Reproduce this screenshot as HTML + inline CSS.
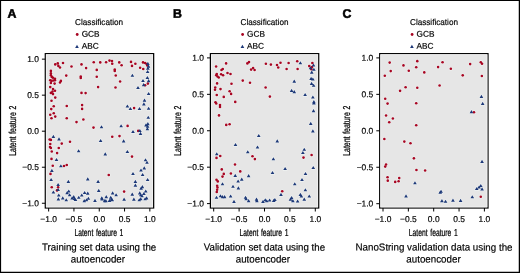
<!DOCTYPE html>
<html><head><meta charset="utf-8"><title>Figure</title>
<style>html,body{margin:0;padding:0;background:#fff}body{width:520px;height:273px;overflow:hidden}g.h{fill:#f0f3f2;stroke:#f0f3f2;stroke-width:1.1px;stroke-linejoin:round}text{stroke:#000;stroke-width:.17px}text.N{stroke-width:.24px;word-spacing:1.1px}text.L{stroke-width:.55px}</style></head>
<body>
<svg width="520" height="273" viewBox="0 0 520 273" style="display:block;will-change:transform;opacity:0.999" font-family="Liberation Sans, sans-serif" fill="#000">
<rect x="0" y="0" width="520" height="273" fill="#fff"/>
<path d="M0 0H520V273H0Z M1.1 1.1V271.75H518.75V1.1Z" fill="#000" fill-rule="evenodd"/>
<text transform="translate(7.50 17.80) rotate(0.03)" font-size="12.3" font-weight="bold" class="L">A</text>
<text transform="translate(75.10 24.90) rotate(0.03)" font-size="8.6" textLength="48" lengthAdjust="spacingAndGlyphs">Classification</text>
<circle cx="77.20" cy="34.5" r="1.4" fill="#a80522"/>
<text transform="translate(81.70 36.75) rotate(0.03)" font-size="8.4" textLength="17.9" lengthAdjust="spacingAndGlyphs">GCB</text>
<path d="M77.00 44.70L78.85 47.90H75.15Z" fill="#1d3878"/>
<text transform="translate(81.70 48.65) rotate(0.03)" font-size="8.4" textLength="17.0" lengthAdjust="spacingAndGlyphs">ABC</text>
<rect x="45.3" y="53.65" width="108.35" height="154.35" fill="#e6e6e6" stroke="#000" stroke-width="1.25"/>
<rect x="46.32" y="54.67" width="106.30" height="152.30" fill="none" stroke="#f3f3f3" stroke-width="0.8"/>
<path d="M48.65 208.0V211.50" stroke="#000" stroke-width="1.0" fill="none"/>
<text transform="translate(48.65 222.00) rotate(0.03)" font-size="8.45" text-anchor="middle">−1.0</text>
<path d="M45.3 203.25H41.90" stroke="#000" stroke-width="1.0" fill="none"/>
<text transform="translate(38.90 206.15) rotate(0.03)" font-size="8.45" text-anchor="end">−1.0</text>
<path d="M73.95 208.0V211.50" stroke="#000" stroke-width="1.0" fill="none"/>
<text transform="translate(73.95 222.00) rotate(0.03)" font-size="8.45" text-anchor="middle">−0.5</text>
<path d="M45.3 167.22H41.90" stroke="#000" stroke-width="1.0" fill="none"/>
<text transform="translate(38.90 170.12) rotate(0.03)" font-size="8.45" text-anchor="end">−0.5</text>
<path d="M99.25 208.0V211.50" stroke="#000" stroke-width="1.0" fill="none"/>
<text transform="translate(99.25 222.00) rotate(0.03)" font-size="8.45" text-anchor="middle">0.0</text>
<path d="M45.3 131.20H41.90" stroke="#000" stroke-width="1.0" fill="none"/>
<text transform="translate(38.90 134.10) rotate(0.03)" font-size="8.45" text-anchor="end">0.0</text>
<path d="M124.55 208.0V211.50" stroke="#000" stroke-width="1.0" fill="none"/>
<text transform="translate(124.55 222.00) rotate(0.03)" font-size="8.45" text-anchor="middle">0.5</text>
<path d="M45.3 95.17H41.90" stroke="#000" stroke-width="1.0" fill="none"/>
<text transform="translate(38.90 98.07) rotate(0.03)" font-size="8.45" text-anchor="end">0.5</text>
<path d="M149.85 208.0V211.50" stroke="#000" stroke-width="1.0" fill="none"/>
<text transform="translate(149.85 222.00) rotate(0.03)" font-size="8.45" text-anchor="middle">1.0</text>
<path d="M45.3 59.15H41.90" stroke="#000" stroke-width="1.0" fill="none"/>
<text transform="translate(38.90 62.05) rotate(0.03)" font-size="8.45" text-anchor="end">1.0</text>
<text transform="translate(98.88 236.00) rotate(0.03)" font-size="10.1" text-anchor="middle" textLength="48.9" lengthAdjust="spacingAndGlyphs" class="N">Latent feature 1</text>
<text transform="translate(15.80 130.75) rotate(-90.03)" font-size="10.1" text-anchor="middle" textLength="50.2" lengthAdjust="spacingAndGlyphs" class="N">Latent feature 2</text>
<g class="h">
<circle cx="55.25" cy="64.38" r="1.3"/>
<circle cx="57.75" cy="63.38" r="1.3"/>
<circle cx="63.0" cy="63.0" r="1.3"/>
<circle cx="58.38" cy="65.88" r="1.3"/>
<circle cx="60.0" cy="67.5" r="1.3"/>
<circle cx="71.5" cy="66.5" r="1.3"/>
<circle cx="81.5" cy="64.38" r="1.3"/>
<circle cx="86.12" cy="68.12" r="1.3"/>
<circle cx="93.75" cy="62.25" r="1.3"/>
<circle cx="100.25" cy="62.38" r="1.3"/>
<circle cx="106.12" cy="62.25" r="1.3"/>
<circle cx="96.75" cy="69.88" r="1.3"/>
<circle cx="96.75" cy="76.75" r="1.3"/>
<circle cx="80.75" cy="76.5" r="1.3"/>
<circle cx="80.75" cy="78.0" r="1.3"/>
<circle cx="66.25" cy="75.62" r="1.3"/>
<circle cx="50.88" cy="70.88" r="1.3"/>
<circle cx="50.88" cy="73.38" r="1.3"/>
<circle cx="50.88" cy="75.25" r="1.3"/>
<circle cx="51.75" cy="76.88" r="1.3"/>
<circle cx="53.0" cy="77.75" r="1.3"/>
<circle cx="55.0" cy="78.75" r="1.3"/>
<circle cx="50.25" cy="80.25" r="1.3"/>
<circle cx="51.5" cy="80.88" r="1.3"/>
<circle cx="53.38" cy="80.5" r="1.3"/>
<circle cx="55.0" cy="80.25" r="1.3"/>
<circle cx="60.88" cy="80.88" r="1.3"/>
<circle cx="60.0" cy="82.5" r="1.3"/>
<circle cx="50.88" cy="83.0" r="1.3"/>
<circle cx="54.62" cy="83.62" r="1.3"/>
<circle cx="50.25" cy="87.12" r="1.3"/>
<circle cx="98.12" cy="87.12" r="1.3"/>
<circle cx="53.0" cy="89.12" r="1.3"/>
<circle cx="55.0" cy="90.75" r="1.3"/>
<circle cx="52.5" cy="91.62" r="1.3"/>
<circle cx="50.88" cy="92.88" r="1.3"/>
<circle cx="53.0" cy="94.12" r="1.3"/>
<circle cx="55.25" cy="97.62" r="1.3"/>
<circle cx="51.5" cy="100.75" r="1.3"/>
<circle cx="53.75" cy="106.25" r="1.3"/>
<circle cx="51.25" cy="109.12" r="1.3"/>
<circle cx="53.75" cy="113.25" r="1.3"/>
<circle cx="50.25" cy="114.75" r="1.3"/>
<circle cx="55.25" cy="116.62" r="1.3"/>
<circle cx="51.5" cy="118.25" r="1.3"/>
<circle cx="66.75" cy="106.0" r="1.3"/>
<circle cx="66.75" cy="118.25" r="1.3"/>
<circle cx="81.5" cy="92.88" r="1.3"/>
<circle cx="85.62" cy="93.12" r="1.3"/>
<circle cx="82.12" cy="105.12" r="1.3"/>
<circle cx="82.12" cy="108.88" r="1.3"/>
<circle cx="83.38" cy="119.5" r="1.3"/>
<circle cx="76.5" cy="122.12" r="1.3"/>
<circle cx="93.5" cy="127.62" r="1.3"/>
<circle cx="49.62" cy="139.5" r="1.3"/>
<circle cx="50.88" cy="139.88" r="1.3"/>
<circle cx="50.25" cy="144.0" r="1.3"/>
<circle cx="50.0" cy="147.0" r="1.3"/>
<circle cx="50.88" cy="148.0" r="1.3"/>
<circle cx="58.75" cy="148.0" r="1.3"/>
<circle cx="61.75" cy="143.62" r="1.3"/>
<circle cx="70.0" cy="141.75" r="1.3"/>
<circle cx="51.75" cy="151.5" r="1.3"/>
<path d="M101.50 125.15L103.35 128.35H99.65Z"/>
<path d="M53.38 134.78L55.23 137.98H51.53Z"/>
<path d="M59.00 137.28L60.85 140.48H57.15Z"/>
<path d="M100.62 138.90L102.47 142.10H98.77Z"/>
<path d="M78.62 149.15L80.47 152.35H76.77Z"/>
<circle cx="57.12" cy="153.12" r="1.3"/>
<circle cx="51.5" cy="158.88" r="1.3"/>
<circle cx="52.75" cy="165.75" r="1.3"/>
<circle cx="64.0" cy="166.0" r="1.3"/>
<circle cx="66.75" cy="165.0" r="1.3"/>
<circle cx="50.5" cy="173.88" r="1.3"/>
<circle cx="108.75" cy="175.0" r="1.3"/>
<path d="M105.25 152.28L107.10 155.48H103.40Z"/>
<path d="M56.50 157.90L58.35 161.10H54.65Z"/>
<path d="M60.88 164.15L62.73 167.35H59.03Z"/>
<path d="M51.88 168.78L53.73 171.98H50.03Z"/>
<path d="M87.75 177.28L89.60 180.48H85.90Z"/>
<path d="M51.12 177.90L52.97 181.10H49.27Z"/>
<circle cx="51.75" cy="187.25" r="1.3"/>
<circle cx="58.12" cy="187.25" r="1.3"/>
<circle cx="57.0" cy="190.38" r="1.3"/>
<path d="M58.12 182.90L59.97 186.10H56.27Z"/>
<path d="M68.38 179.78L70.23 182.98H66.53Z"/>
<path d="M98.12 179.78L99.97 182.98H96.27Z"/>
<path d="M53.38 190.40L55.23 193.60H51.53Z"/>
<path d="M58.12 187.90L59.97 191.10H56.27Z"/>
<path d="M58.75 193.40L60.60 196.60H56.90Z"/>
<path d="M58.38 197.28L60.23 200.48H56.53Z"/>
<path d="M62.75 196.28L64.60 199.48H60.90Z"/>
<path d="M66.25 198.15L68.10 201.35H64.40Z"/>
<path d="M67.12 191.02L68.97 194.22H65.27Z"/>
<path d="M68.75 189.40L70.60 192.60H66.90Z"/>
<path d="M69.62 193.15L71.47 196.35H67.77Z"/>
<path d="M72.12 196.28L73.97 199.48H70.27Z"/>
<path d="M73.75 195.02L75.60 198.22H71.90Z"/>
<path d="M74.38 196.90L76.23 200.10H72.53Z"/>
<path d="M75.50 197.90L77.35 201.10H73.65Z"/>
<path d="M78.75 195.65L80.60 198.85H76.90Z"/>
<path d="M81.75 193.40L83.60 196.60H79.90Z"/>
<path d="M84.62 190.90L86.47 194.10H82.77Z"/>
<path d="M87.75 191.52L89.60 194.72H85.90Z"/>
<path d="M88.38 196.65L90.23 199.85H86.53Z"/>
<path d="M86.50 198.15L88.35 201.35H84.65Z"/>
<path d="M84.25 199.02L86.10 202.22H82.40Z"/>
<path d="M95.00 198.78L96.85 201.98H93.15Z"/>
<path d="M98.75 188.78L100.60 191.98H96.90Z"/>
<path d="M101.75 196.28L103.60 199.48H99.90Z"/>
<path d="M102.12 197.28L103.97 200.48H100.27Z"/>
<path d="M106.25 195.02L108.10 198.22H104.40Z"/>
<path d="M104.62 199.02L106.47 202.22H102.77Z"/>
<path d="M105.88 199.02L107.73 202.22H104.03Z"/>
<circle cx="109.5" cy="60.62" r="1.3"/>
<circle cx="112.0" cy="61.12" r="1.3"/>
<circle cx="112.25" cy="63.75" r="1.3"/>
<circle cx="119.25" cy="62.38" r="1.3"/>
<circle cx="121.62" cy="65.25" r="1.3"/>
<circle cx="131.0" cy="61.88" r="1.3"/>
<circle cx="132.0" cy="65.88" r="1.3"/>
<circle cx="135.38" cy="63.75" r="1.3"/>
<circle cx="143.0" cy="62.38" r="1.3"/>
<circle cx="145.12" cy="63.0" r="1.3"/>
<circle cx="146.62" cy="64.0" r="1.3"/>
<circle cx="147.25" cy="65.5" r="1.3"/>
<circle cx="140.12" cy="67.75" r="1.3"/>
<circle cx="143.25" cy="69.0" r="1.3"/>
<circle cx="114.75" cy="69.62" r="1.3"/>
<circle cx="114.75" cy="70.88" r="1.3"/>
<circle cx="115.75" cy="75.5" r="1.3"/>
<circle cx="120.12" cy="81.5" r="1.3"/>
<circle cx="115.5" cy="87.5" r="1.3"/>
<circle cx="147.88" cy="83.62" r="1.3"/>
<circle cx="145.12" cy="85.25" r="1.3"/>
<path d="M147.88 61.78L149.73 64.98H146.03Z"/>
<path d="M148.50 64.52L150.35 67.72H146.65Z"/>
<path d="M147.88 66.52L149.73 69.72H146.03Z"/>
<path d="M147.62 69.90L149.47 73.10H145.77Z"/>
<path d="M132.38 73.65L134.23 76.85H130.53Z"/>
<path d="M147.38 75.90L149.23 79.10H145.53Z"/>
<path d="M143.00 78.90L144.85 82.10H141.15Z"/>
<path d="M148.62 79.02L150.47 82.22H146.77Z"/>
<path d="M143.62 83.02L145.47 86.22H141.77Z"/>
<path d="M138.00 85.90L139.85 89.10H136.15Z"/>
<circle cx="134.12" cy="108.12" r="1.3"/>
<path d="M148.62 91.90L150.47 95.10H146.77Z"/>
<path d="M144.50 98.52L146.35 101.72H142.65Z"/>
<path d="M143.88 102.28L145.73 105.48H142.03Z"/>
<path d="M127.38 104.40L129.23 107.60H125.53Z"/>
<path d="M130.38 106.90L132.23 110.10H128.53Z"/>
<path d="M139.50 106.90L141.35 110.10H137.65Z"/>
<path d="M148.62 106.65L150.47 109.85H146.77Z"/>
<path d="M148.25 115.65L150.10 118.85H146.40Z"/>
<circle cx="127.62" cy="125.88" r="1.3"/>
<circle cx="138.25" cy="130.88" r="1.3"/>
<circle cx="112.25" cy="136.75" r="1.3"/>
<circle cx="119.5" cy="136.12" r="1.3"/>
<path d="M121.12 124.15L122.97 127.35H119.27Z"/>
<path d="M133.00 129.90L134.85 133.10H131.15Z"/>
<path d="M139.88 128.90L141.73 132.10H138.03Z"/>
<path d="M140.50 131.78L142.35 134.98H138.65Z"/>
<path d="M147.88 122.02L149.73 125.22H146.03Z"/>
<path d="M146.00 123.28L147.85 126.48H144.15Z"/>
<path d="M147.62 124.52L149.47 127.72H145.77Z"/>
<path d="M147.38 127.02L149.23 130.22H145.53Z"/>
<path d="M123.62 139.28L125.47 142.48H121.77Z"/>
<path d="M127.38 149.90L129.23 153.10H125.53Z"/>
<circle cx="132.0" cy="156.62" r="1.3"/>
<path d="M145.50 158.15L147.35 161.35H143.65Z"/>
<path d="M147.00 160.65L148.85 163.85H145.15Z"/>
<path d="M144.25 166.28L146.10 169.48H142.40Z"/>
<path d="M141.00 168.40L142.85 171.60H139.15Z"/>
<path d="M133.00 171.90L134.85 175.10H131.15Z"/>
<path d="M142.62 172.90L144.47 176.10H140.77Z"/>
<path d="M147.62 177.90L149.47 181.10H145.77Z"/>
<circle cx="124.12" cy="191.62" r="1.3"/>
<path d="M109.50 198.78L111.35 201.98H107.65Z"/>
<path d="M110.75 195.65L112.60 198.85H108.90Z"/>
<path d="M111.38 197.52L113.23 200.72H109.53Z"/>
<path d="M112.25 198.15L114.10 201.35H110.40Z"/>
<path d="M112.62 191.28L114.47 194.48H110.77Z"/>
<path d="M116.12 193.15L117.97 196.35H114.27Z"/>
<path d="M124.12 197.52L125.97 200.72H122.27Z"/>
<path d="M132.25 192.52L134.10 195.72H130.40Z"/>
<path d="M133.88 197.52L135.73 200.72H132.03Z"/>
<path d="M135.38 179.78L137.23 182.98H133.53Z"/>
<path d="M135.38 183.52L137.23 186.72H133.53Z"/>
<path d="M142.38 185.02L144.23 188.22H140.53Z"/>
<path d="M141.12 186.52L142.97 189.72H139.27Z"/>
<path d="M145.75 189.40L147.60 192.60H143.90Z"/>
<path d="M139.75 191.28L141.60 194.48H137.90Z"/>
<path d="M143.88 191.90L145.73 195.10H142.03Z"/>
<path d="M140.75 193.15L142.60 196.35H138.90Z"/>
<path d="M142.00 194.15L143.85 197.35H140.15Z"/>
<path d="M146.62 196.28L148.47 199.48H144.77Z"/>
<path d="M145.12 197.15L146.97 200.35H143.27Z"/>
<path d="M140.75 197.15L142.60 200.35H138.90Z"/>
<path d="M139.25 198.15L141.10 201.35H137.40Z"/>
</g>
<circle cx="55.25" cy="64.38" r="1.3" fill="#a80522"/>
<circle cx="57.75" cy="63.38" r="1.3" fill="#a80522"/>
<circle cx="63.0" cy="63.0" r="1.3" fill="#a80522"/>
<circle cx="58.38" cy="65.88" r="1.3" fill="#a80522"/>
<circle cx="60.0" cy="67.5" r="1.3" fill="#a80522"/>
<circle cx="71.5" cy="66.5" r="1.3" fill="#a80522"/>
<circle cx="81.5" cy="64.38" r="1.3" fill="#a80522"/>
<circle cx="86.12" cy="68.12" r="1.3" fill="#a80522"/>
<circle cx="93.75" cy="62.25" r="1.3" fill="#a80522"/>
<circle cx="100.25" cy="62.38" r="1.3" fill="#a80522"/>
<circle cx="106.12" cy="62.25" r="1.3" fill="#a80522"/>
<circle cx="96.75" cy="69.88" r="1.3" fill="#a80522"/>
<circle cx="96.75" cy="76.75" r="1.3" fill="#a80522"/>
<circle cx="80.75" cy="76.5" r="1.3" fill="#a80522"/>
<circle cx="80.75" cy="78.0" r="1.3" fill="#a80522"/>
<circle cx="66.25" cy="75.62" r="1.3" fill="#a80522"/>
<circle cx="50.88" cy="70.88" r="1.3" fill="#a80522"/>
<circle cx="50.88" cy="73.38" r="1.3" fill="#a80522"/>
<circle cx="50.88" cy="75.25" r="1.3" fill="#a80522"/>
<circle cx="51.75" cy="76.88" r="1.3" fill="#a80522"/>
<circle cx="53.0" cy="77.75" r="1.3" fill="#a80522"/>
<circle cx="55.0" cy="78.75" r="1.3" fill="#a80522"/>
<circle cx="50.25" cy="80.25" r="1.3" fill="#a80522"/>
<circle cx="51.5" cy="80.88" r="1.3" fill="#a80522"/>
<circle cx="53.38" cy="80.5" r="1.3" fill="#a80522"/>
<circle cx="55.0" cy="80.25" r="1.3" fill="#a80522"/>
<circle cx="60.88" cy="80.88" r="1.3" fill="#a80522"/>
<circle cx="60.0" cy="82.5" r="1.3" fill="#a80522"/>
<circle cx="50.88" cy="83.0" r="1.3" fill="#a80522"/>
<circle cx="54.62" cy="83.62" r="1.3" fill="#a80522"/>
<circle cx="50.25" cy="87.12" r="1.3" fill="#a80522"/>
<circle cx="98.12" cy="87.12" r="1.3" fill="#a80522"/>
<circle cx="53.0" cy="89.12" r="1.3" fill="#a80522"/>
<circle cx="55.0" cy="90.75" r="1.3" fill="#a80522"/>
<circle cx="52.5" cy="91.62" r="1.3" fill="#a80522"/>
<circle cx="50.88" cy="92.88" r="1.3" fill="#a80522"/>
<circle cx="53.0" cy="94.12" r="1.3" fill="#a80522"/>
<circle cx="55.25" cy="97.62" r="1.3" fill="#a80522"/>
<circle cx="51.5" cy="100.75" r="1.3" fill="#a80522"/>
<circle cx="53.75" cy="106.25" r="1.3" fill="#a80522"/>
<circle cx="51.25" cy="109.12" r="1.3" fill="#a80522"/>
<circle cx="53.75" cy="113.25" r="1.3" fill="#a80522"/>
<circle cx="50.25" cy="114.75" r="1.3" fill="#a80522"/>
<circle cx="55.25" cy="116.62" r="1.3" fill="#a80522"/>
<circle cx="51.5" cy="118.25" r="1.3" fill="#a80522"/>
<circle cx="66.75" cy="106.0" r="1.3" fill="#a80522"/>
<circle cx="66.75" cy="118.25" r="1.3" fill="#a80522"/>
<circle cx="81.5" cy="92.88" r="1.3" fill="#a80522"/>
<circle cx="85.62" cy="93.12" r="1.3" fill="#a80522"/>
<circle cx="82.12" cy="105.12" r="1.3" fill="#a80522"/>
<circle cx="82.12" cy="108.88" r="1.3" fill="#a80522"/>
<circle cx="83.38" cy="119.5" r="1.3" fill="#a80522"/>
<circle cx="76.5" cy="122.12" r="1.3" fill="#a80522"/>
<circle cx="93.5" cy="127.62" r="1.3" fill="#a80522"/>
<circle cx="49.62" cy="139.5" r="1.3" fill="#a80522"/>
<circle cx="50.88" cy="139.88" r="1.3" fill="#a80522"/>
<circle cx="50.25" cy="144.0" r="1.3" fill="#a80522"/>
<circle cx="50.0" cy="147.0" r="1.3" fill="#a80522"/>
<circle cx="50.88" cy="148.0" r="1.3" fill="#a80522"/>
<circle cx="58.75" cy="148.0" r="1.3" fill="#a80522"/>
<circle cx="61.75" cy="143.62" r="1.3" fill="#a80522"/>
<circle cx="70.0" cy="141.75" r="1.3" fill="#a80522"/>
<circle cx="51.75" cy="151.5" r="1.3" fill="#a80522"/>
<circle cx="57.12" cy="153.12" r="1.3" fill="#a80522"/>
<circle cx="51.5" cy="158.88" r="1.3" fill="#a80522"/>
<circle cx="52.75" cy="165.75" r="1.3" fill="#a80522"/>
<circle cx="64.0" cy="166.0" r="1.3" fill="#a80522"/>
<circle cx="66.75" cy="165.0" r="1.3" fill="#a80522"/>
<circle cx="50.5" cy="173.88" r="1.3" fill="#a80522"/>
<circle cx="108.75" cy="175.0" r="1.3" fill="#a80522"/>
<circle cx="51.75" cy="187.25" r="1.3" fill="#a80522"/>
<circle cx="58.12" cy="187.25" r="1.3" fill="#a80522"/>
<circle cx="57.0" cy="190.38" r="1.3" fill="#a80522"/>
<circle cx="109.5" cy="60.62" r="1.3" fill="#a80522"/>
<circle cx="112.0" cy="61.12" r="1.3" fill="#a80522"/>
<circle cx="112.25" cy="63.75" r="1.3" fill="#a80522"/>
<circle cx="119.25" cy="62.38" r="1.3" fill="#a80522"/>
<circle cx="121.62" cy="65.25" r="1.3" fill="#a80522"/>
<circle cx="131.0" cy="61.88" r="1.3" fill="#a80522"/>
<circle cx="132.0" cy="65.88" r="1.3" fill="#a80522"/>
<circle cx="135.38" cy="63.75" r="1.3" fill="#a80522"/>
<circle cx="143.0" cy="62.38" r="1.3" fill="#a80522"/>
<circle cx="145.12" cy="63.0" r="1.3" fill="#a80522"/>
<circle cx="146.62" cy="64.0" r="1.3" fill="#a80522"/>
<circle cx="147.25" cy="65.5" r="1.3" fill="#a80522"/>
<circle cx="140.12" cy="67.75" r="1.3" fill="#a80522"/>
<circle cx="143.25" cy="69.0" r="1.3" fill="#a80522"/>
<circle cx="114.75" cy="69.62" r="1.3" fill="#a80522"/>
<circle cx="114.75" cy="70.88" r="1.3" fill="#a80522"/>
<circle cx="115.75" cy="75.5" r="1.3" fill="#a80522"/>
<circle cx="120.12" cy="81.5" r="1.3" fill="#a80522"/>
<circle cx="115.5" cy="87.5" r="1.3" fill="#a80522"/>
<circle cx="147.88" cy="83.62" r="1.3" fill="#a80522"/>
<circle cx="145.12" cy="85.25" r="1.3" fill="#a80522"/>
<circle cx="134.12" cy="108.12" r="1.3" fill="#a80522"/>
<circle cx="127.62" cy="125.88" r="1.3" fill="#a80522"/>
<circle cx="138.25" cy="130.88" r="1.3" fill="#a80522"/>
<circle cx="112.25" cy="136.75" r="1.3" fill="#a80522"/>
<circle cx="119.5" cy="136.12" r="1.3" fill="#a80522"/>
<circle cx="132.0" cy="156.62" r="1.3" fill="#a80522"/>
<circle cx="124.12" cy="191.62" r="1.3" fill="#a80522"/>
<path d="M101.50 125.15L103.35 128.35H99.65Z" fill="#1d3878"/>
<path d="M53.38 134.78L55.23 137.98H51.53Z" fill="#1d3878"/>
<path d="M59.00 137.28L60.85 140.48H57.15Z" fill="#1d3878"/>
<path d="M100.62 138.90L102.47 142.10H98.77Z" fill="#1d3878"/>
<path d="M78.62 149.15L80.47 152.35H76.77Z" fill="#1d3878"/>
<path d="M105.25 152.28L107.10 155.48H103.40Z" fill="#1d3878"/>
<path d="M56.50 157.90L58.35 161.10H54.65Z" fill="#1d3878"/>
<path d="M60.88 164.15L62.73 167.35H59.03Z" fill="#1d3878"/>
<path d="M51.88 168.78L53.73 171.98H50.03Z" fill="#1d3878"/>
<path d="M87.75 177.28L89.60 180.48H85.90Z" fill="#1d3878"/>
<path d="M51.12 177.90L52.97 181.10H49.27Z" fill="#1d3878"/>
<path d="M58.12 182.90L59.97 186.10H56.27Z" fill="#1d3878"/>
<path d="M68.38 179.78L70.23 182.98H66.53Z" fill="#1d3878"/>
<path d="M98.12 179.78L99.97 182.98H96.27Z" fill="#1d3878"/>
<path d="M53.38 190.40L55.23 193.60H51.53Z" fill="#1d3878"/>
<path d="M58.12 187.90L59.97 191.10H56.27Z" fill="#1d3878"/>
<path d="M58.75 193.40L60.60 196.60H56.90Z" fill="#1d3878"/>
<path d="M58.38 197.28L60.23 200.48H56.53Z" fill="#1d3878"/>
<path d="M62.75 196.28L64.60 199.48H60.90Z" fill="#1d3878"/>
<path d="M66.25 198.15L68.10 201.35H64.40Z" fill="#1d3878"/>
<path d="M67.12 191.02L68.97 194.22H65.27Z" fill="#1d3878"/>
<path d="M68.75 189.40L70.60 192.60H66.90Z" fill="#1d3878"/>
<path d="M69.62 193.15L71.47 196.35H67.77Z" fill="#1d3878"/>
<path d="M72.12 196.28L73.97 199.48H70.27Z" fill="#1d3878"/>
<path d="M73.75 195.02L75.60 198.22H71.90Z" fill="#1d3878"/>
<path d="M74.38 196.90L76.23 200.10H72.53Z" fill="#1d3878"/>
<path d="M75.50 197.90L77.35 201.10H73.65Z" fill="#1d3878"/>
<path d="M78.75 195.65L80.60 198.85H76.90Z" fill="#1d3878"/>
<path d="M81.75 193.40L83.60 196.60H79.90Z" fill="#1d3878"/>
<path d="M84.62 190.90L86.47 194.10H82.77Z" fill="#1d3878"/>
<path d="M87.75 191.52L89.60 194.72H85.90Z" fill="#1d3878"/>
<path d="M88.38 196.65L90.23 199.85H86.53Z" fill="#1d3878"/>
<path d="M86.50 198.15L88.35 201.35H84.65Z" fill="#1d3878"/>
<path d="M84.25 199.02L86.10 202.22H82.40Z" fill="#1d3878"/>
<path d="M95.00 198.78L96.85 201.98H93.15Z" fill="#1d3878"/>
<path d="M98.75 188.78L100.60 191.98H96.90Z" fill="#1d3878"/>
<path d="M101.75 196.28L103.60 199.48H99.90Z" fill="#1d3878"/>
<path d="M102.12 197.28L103.97 200.48H100.27Z" fill="#1d3878"/>
<path d="M106.25 195.02L108.10 198.22H104.40Z" fill="#1d3878"/>
<path d="M104.62 199.02L106.47 202.22H102.77Z" fill="#1d3878"/>
<path d="M105.88 199.02L107.73 202.22H104.03Z" fill="#1d3878"/>
<path d="M147.88 61.78L149.73 64.98H146.03Z" fill="#1d3878"/>
<path d="M148.50 64.52L150.35 67.72H146.65Z" fill="#1d3878"/>
<path d="M147.88 66.52L149.73 69.72H146.03Z" fill="#1d3878"/>
<path d="M147.62 69.90L149.47 73.10H145.77Z" fill="#1d3878"/>
<path d="M132.38 73.65L134.23 76.85H130.53Z" fill="#1d3878"/>
<path d="M147.38 75.90L149.23 79.10H145.53Z" fill="#1d3878"/>
<path d="M143.00 78.90L144.85 82.10H141.15Z" fill="#1d3878"/>
<path d="M148.62 79.02L150.47 82.22H146.77Z" fill="#1d3878"/>
<path d="M143.62 83.02L145.47 86.22H141.77Z" fill="#1d3878"/>
<path d="M138.00 85.90L139.85 89.10H136.15Z" fill="#1d3878"/>
<path d="M148.62 91.90L150.47 95.10H146.77Z" fill="#1d3878"/>
<path d="M144.50 98.52L146.35 101.72H142.65Z" fill="#1d3878"/>
<path d="M143.88 102.28L145.73 105.48H142.03Z" fill="#1d3878"/>
<path d="M127.38 104.40L129.23 107.60H125.53Z" fill="#1d3878"/>
<path d="M130.38 106.90L132.23 110.10H128.53Z" fill="#1d3878"/>
<path d="M139.50 106.90L141.35 110.10H137.65Z" fill="#1d3878"/>
<path d="M148.62 106.65L150.47 109.85H146.77Z" fill="#1d3878"/>
<path d="M148.25 115.65L150.10 118.85H146.40Z" fill="#1d3878"/>
<path d="M121.12 124.15L122.97 127.35H119.27Z" fill="#1d3878"/>
<path d="M133.00 129.90L134.85 133.10H131.15Z" fill="#1d3878"/>
<path d="M139.88 128.90L141.73 132.10H138.03Z" fill="#1d3878"/>
<path d="M140.50 131.78L142.35 134.98H138.65Z" fill="#1d3878"/>
<path d="M147.88 122.02L149.73 125.22H146.03Z" fill="#1d3878"/>
<path d="M146.00 123.28L147.85 126.48H144.15Z" fill="#1d3878"/>
<path d="M147.62 124.52L149.47 127.72H145.77Z" fill="#1d3878"/>
<path d="M147.38 127.02L149.23 130.22H145.53Z" fill="#1d3878"/>
<path d="M123.62 139.28L125.47 142.48H121.77Z" fill="#1d3878"/>
<path d="M127.38 149.90L129.23 153.10H125.53Z" fill="#1d3878"/>
<path d="M145.50 158.15L147.35 161.35H143.65Z" fill="#1d3878"/>
<path d="M147.00 160.65L148.85 163.85H145.15Z" fill="#1d3878"/>
<path d="M144.25 166.28L146.10 169.48H142.40Z" fill="#1d3878"/>
<path d="M141.00 168.40L142.85 171.60H139.15Z" fill="#1d3878"/>
<path d="M133.00 171.90L134.85 175.10H131.15Z" fill="#1d3878"/>
<path d="M142.62 172.90L144.47 176.10H140.77Z" fill="#1d3878"/>
<path d="M147.62 177.90L149.47 181.10H145.77Z" fill="#1d3878"/>
<path d="M109.50 198.78L111.35 201.98H107.65Z" fill="#1d3878"/>
<path d="M110.75 195.65L112.60 198.85H108.90Z" fill="#1d3878"/>
<path d="M111.38 197.52L113.23 200.72H109.53Z" fill="#1d3878"/>
<path d="M112.25 198.15L114.10 201.35H110.40Z" fill="#1d3878"/>
<path d="M112.62 191.28L114.47 194.48H110.77Z" fill="#1d3878"/>
<path d="M116.12 193.15L117.97 196.35H114.27Z" fill="#1d3878"/>
<path d="M124.12 197.52L125.97 200.72H122.27Z" fill="#1d3878"/>
<path d="M132.25 192.52L134.10 195.72H130.40Z" fill="#1d3878"/>
<path d="M133.88 197.52L135.73 200.72H132.03Z" fill="#1d3878"/>
<path d="M135.38 179.78L137.23 182.98H133.53Z" fill="#1d3878"/>
<path d="M135.38 183.52L137.23 186.72H133.53Z" fill="#1d3878"/>
<path d="M142.38 185.02L144.23 188.22H140.53Z" fill="#1d3878"/>
<path d="M141.12 186.52L142.97 189.72H139.27Z" fill="#1d3878"/>
<path d="M145.75 189.40L147.60 192.60H143.90Z" fill="#1d3878"/>
<path d="M139.75 191.28L141.60 194.48H137.90Z" fill="#1d3878"/>
<path d="M143.88 191.90L145.73 195.10H142.03Z" fill="#1d3878"/>
<path d="M140.75 193.15L142.60 196.35H138.90Z" fill="#1d3878"/>
<path d="M142.00 194.15L143.85 197.35H140.15Z" fill="#1d3878"/>
<path d="M146.62 196.28L148.47 199.48H144.77Z" fill="#1d3878"/>
<path d="M145.12 197.15L146.97 200.35H143.27Z" fill="#1d3878"/>
<path d="M140.75 197.15L142.60 200.35H138.90Z" fill="#1d3878"/>
<path d="M139.25 198.15L141.10 201.35H137.40Z" fill="#1d3878"/>
<text transform="translate(99.10 250.60) rotate(0.03)" font-size="10.1" text-anchor="middle" textLength="114.2" lengthAdjust="spacingAndGlyphs">Training set data using the</text>
<text transform="translate(97.90 262.60) rotate(0.03)" font-size="10.1" text-anchor="middle" textLength="54.3" lengthAdjust="spacingAndGlyphs">autoencoder</text>
<text transform="translate(173.00 17.80) rotate(0.03)" font-size="12.3" font-weight="bold" class="L">B</text>
<text transform="translate(240.50 24.90) rotate(0.03)" font-size="8.6" textLength="48" lengthAdjust="spacingAndGlyphs">Classification</text>
<circle cx="242.60" cy="34.5" r="1.4" fill="#a80522"/>
<text transform="translate(247.10 36.75) rotate(0.03)" font-size="8.4" textLength="17.9" lengthAdjust="spacingAndGlyphs">GCB</text>
<path d="M242.40 44.70L244.25 47.90H240.55Z" fill="#1d3878"/>
<text transform="translate(247.10 48.65) rotate(0.03)" font-size="8.4" textLength="17.0" lengthAdjust="spacingAndGlyphs">ABC</text>
<rect x="210.4" y="53.65" width="108.30" height="154.35" fill="#e6e6e6" stroke="#000" stroke-width="1.25"/>
<rect x="211.43" y="54.67" width="106.25" height="152.30" fill="none" stroke="#f3f3f3" stroke-width="0.8"/>
<path d="M213.70 208.0V211.50" stroke="#000" stroke-width="1.0" fill="none"/>
<text transform="translate(213.70 222.00) rotate(0.03)" font-size="8.45" text-anchor="middle">−1.0</text>
<path d="M210.4 203.60H207.00" stroke="#000" stroke-width="1.0" fill="none"/>
<text transform="translate(204.00 206.50) rotate(0.03)" font-size="8.45" text-anchor="end">−1.0</text>
<path d="M239.10 208.0V211.50" stroke="#000" stroke-width="1.0" fill="none"/>
<text transform="translate(239.10 222.00) rotate(0.03)" font-size="8.45" text-anchor="middle">−0.5</text>
<path d="M210.4 167.18H207.00" stroke="#000" stroke-width="1.0" fill="none"/>
<text transform="translate(204.00 170.08) rotate(0.03)" font-size="8.45" text-anchor="end">−0.5</text>
<path d="M264.50 208.0V211.50" stroke="#000" stroke-width="1.0" fill="none"/>
<text transform="translate(264.50 222.00) rotate(0.03)" font-size="8.45" text-anchor="middle">0.0</text>
<path d="M210.4 130.75H207.00" stroke="#000" stroke-width="1.0" fill="none"/>
<text transform="translate(204.00 133.65) rotate(0.03)" font-size="8.45" text-anchor="end">0.0</text>
<path d="M289.90 208.0V211.50" stroke="#000" stroke-width="1.0" fill="none"/>
<text transform="translate(289.90 222.00) rotate(0.03)" font-size="8.45" text-anchor="middle">0.5</text>
<path d="M210.4 94.33H207.00" stroke="#000" stroke-width="1.0" fill="none"/>
<text transform="translate(204.00 97.23) rotate(0.03)" font-size="8.45" text-anchor="end">0.5</text>
<path d="M315.30 208.0V211.50" stroke="#000" stroke-width="1.0" fill="none"/>
<text transform="translate(315.30 222.00) rotate(0.03)" font-size="8.45" text-anchor="middle">1.0</text>
<path d="M210.4 57.90H207.00" stroke="#000" stroke-width="1.0" fill="none"/>
<text transform="translate(204.00 60.80) rotate(0.03)" font-size="8.45" text-anchor="end">1.0</text>
<text transform="translate(263.95 236.00) rotate(0.03)" font-size="10.1" text-anchor="middle" textLength="48.9" lengthAdjust="spacingAndGlyphs" class="N">Latent feature 1</text>
<text transform="translate(180.90 130.75) rotate(-90.03)" font-size="10.1" text-anchor="middle" textLength="50.2" lengthAdjust="spacingAndGlyphs" class="N">Latent feature 2</text>
<g class="h">
<circle cx="216.12" cy="66.5" r="1.3"/>
<circle cx="226.12" cy="63.38" r="1.3"/>
<circle cx="221.5" cy="70.0" r="1.3"/>
<circle cx="222.75" cy="69.0" r="1.3"/>
<circle cx="216.75" cy="74.0" r="1.3"/>
<circle cx="216.25" cy="75.25" r="1.3"/>
<circle cx="217.5" cy="76.5" r="1.3"/>
<circle cx="218.75" cy="77.5" r="1.3"/>
<circle cx="221.12" cy="74.25" r="1.3"/>
<circle cx="223.12" cy="75.25" r="1.3"/>
<circle cx="227.5" cy="73.0" r="1.3"/>
<circle cx="230.5" cy="74.0" r="1.3"/>
<circle cx="247.38" cy="63.38" r="1.3"/>
<circle cx="249.0" cy="62.12" r="1.3"/>
<circle cx="251.12" cy="69.62" r="1.3"/>
<circle cx="253.12" cy="68.0" r="1.3"/>
<circle cx="254.62" cy="70.0" r="1.3"/>
<circle cx="265.88" cy="63.75" r="1.3"/>
<circle cx="270.88" cy="64.62" r="1.3"/>
<circle cx="242.75" cy="80.62" r="1.3"/>
<circle cx="250.0" cy="82.75" r="1.3"/>
<circle cx="231.5" cy="83.75" r="1.3"/>
<circle cx="217.12" cy="83.38" r="1.3"/>
<circle cx="215.25" cy="87.5" r="1.3"/>
<circle cx="265.62" cy="87.5" r="1.3"/>
<circle cx="215.0" cy="89.75" r="1.3"/>
<circle cx="220.5" cy="89.12" r="1.3"/>
<circle cx="229.62" cy="91.25" r="1.3"/>
<circle cx="231.12" cy="93.88" r="1.3"/>
<circle cx="216.75" cy="95.0" r="1.3"/>
<circle cx="223.75" cy="96.88" r="1.3"/>
<circle cx="215.5" cy="102.25" r="1.3"/>
<circle cx="216.25" cy="103.5" r="1.3"/>
<circle cx="220.0" cy="105.0" r="1.3"/>
<circle cx="220.0" cy="107.0" r="1.3"/>
<circle cx="235.25" cy="101.88" r="1.3"/>
<circle cx="219.0" cy="115.38" r="1.3"/>
<circle cx="269.88" cy="96.62" r="1.3"/>
<circle cx="226.25" cy="124.88" r="1.3"/>
<circle cx="229.62" cy="124.25" r="1.3"/>
<path d="M258.75 133.90L260.60 137.10H256.90Z"/>
<path d="M235.50 142.90L237.35 146.10H233.65Z"/>
<path d="M257.50 145.40L259.35 148.60H255.65Z"/>
<path d="M247.75 150.15L249.60 153.35H245.90Z"/>
<circle cx="220.25" cy="156.0" r="1.3"/>
<circle cx="216.5" cy="157.88" r="1.3"/>
<circle cx="252.5" cy="156.25" r="1.3"/>
<circle cx="254.88" cy="159.12" r="1.3"/>
<circle cx="235.0" cy="164.5" r="1.3"/>
<circle cx="221.75" cy="169.38" r="1.3"/>
<circle cx="240.25" cy="171.38" r="1.3"/>
<circle cx="230.88" cy="173.5" r="1.3"/>
<circle cx="223.75" cy="173.88" r="1.3"/>
<circle cx="222.5" cy="176.62" r="1.3"/>
<circle cx="216.5" cy="179.75" r="1.3"/>
<path d="M216.75 152.15L218.60 155.35H214.90Z"/>
<path d="M273.38 157.15L275.23 160.35H271.53Z"/>
<path d="M272.50 170.90L274.35 174.10H270.65Z"/>
<path d="M235.25 173.78L237.10 176.98H233.40Z"/>
<path d="M248.62 174.02L250.47 177.22H246.77Z"/>
<path d="M241.75 177.52L243.60 180.72H239.90Z"/>
<circle cx="217.75" cy="181.38" r="1.3"/>
<circle cx="217.12" cy="185.75" r="1.3"/>
<circle cx="217.5" cy="187.5" r="1.3"/>
<circle cx="217.12" cy="189.75" r="1.3"/>
<circle cx="216.75" cy="192.0" r="1.3"/>
<path d="M238.12 179.40L239.97 182.60H236.27Z"/>
<path d="M222.50 182.15L224.35 185.35H220.65Z"/>
<path d="M233.00 184.65L234.85 187.85H231.15Z"/>
<path d="M238.38 186.28L240.23 189.48H236.53Z"/>
<path d="M216.50 195.65L218.35 198.85H214.65Z"/>
<path d="M220.50 194.15L222.35 197.35H218.65Z"/>
<path d="M222.50 195.02L224.35 198.22H220.65Z"/>
<path d="M224.62 195.02L226.47 198.22H222.77Z"/>
<path d="M230.62 194.40L232.47 197.60H228.77Z"/>
<path d="M234.00 199.78L235.85 202.98H232.15Z"/>
<path d="M245.50 195.65L247.35 198.85H243.65Z"/>
<path d="M246.12 197.15L247.97 200.35H244.27Z"/>
<path d="M248.62 199.02L250.47 202.22H246.77Z"/>
<path d="M256.50 197.52L258.35 200.72H254.65Z"/>
<path d="M256.88 199.02L258.73 202.22H255.03Z"/>
<path d="M263.00 199.78L264.85 202.98H261.15Z"/>
<path d="M265.25 198.15L267.10 201.35H263.40Z"/>
<path d="M266.75 199.15L268.60 202.35H264.90Z"/>
<path d="M269.62 198.40L271.47 201.60H267.77Z"/>
<path d="M273.75 198.78L275.60 201.98H271.90Z"/>
<circle cx="277.0" cy="65.0" r="1.3"/>
<circle cx="278.25" cy="67.5" r="1.3"/>
<circle cx="280.5" cy="62.75" r="1.3"/>
<circle cx="288.62" cy="63.0" r="1.3"/>
<circle cx="286.62" cy="69.0" r="1.3"/>
<circle cx="297.25" cy="61.25" r="1.3"/>
<circle cx="297.62" cy="69.0" r="1.3"/>
<circle cx="312.38" cy="63.0" r="1.3"/>
<circle cx="309.25" cy="66.12" r="1.3"/>
<circle cx="312.0" cy="67.12" r="1.3"/>
<circle cx="311.38" cy="69.25" r="1.3"/>
<path d="M300.38 61.15L302.23 64.35H298.53Z"/>
<path d="M313.50 63.40L315.35 66.60H311.65Z"/>
<path d="M310.50 66.15L312.35 69.35H308.65Z"/>
<path d="M313.88 67.65L315.73 70.85H312.03Z"/>
<path d="M311.75 70.52L313.60 73.72H309.90Z"/>
<path d="M311.12 76.78L312.97 79.98H309.27Z"/>
<path d="M312.88 77.40L314.73 80.60H311.03Z"/>
<path d="M311.62 81.78L313.47 84.98H309.77Z"/>
<path d="M313.62 83.65L315.47 86.85H311.77Z"/>
<path d="M294.25 79.52L296.10 82.72H292.40Z"/>
<path d="M291.62 88.78L293.47 91.98H289.77Z"/>
<path d="M294.25 90.02L296.10 93.22H292.40Z"/>
<path d="M305.12 92.90L306.97 96.10H303.27Z"/>
<path d="M312.88 95.40L314.73 98.60H311.03Z"/>
<path d="M313.88 100.02L315.73 103.22H312.03Z"/>
<path d="M313.88 101.28L315.73 104.48H312.03Z"/>
<path d="M313.50 109.02L315.35 112.22H311.65Z"/>
<path d="M310.75 121.78L312.60 124.98H308.90Z"/>
<path d="M312.88 129.28L314.73 132.48H311.03Z"/>
<path d="M277.25 139.28L279.10 142.48H275.40Z"/>
<path d="M304.25 147.65L306.10 150.85H302.40Z"/>
<circle cx="311.62" cy="155.0" r="1.3"/>
<circle cx="303.5" cy="157.62" r="1.3"/>
<path d="M302.88 150.90L304.73 154.10H301.03Z"/>
<path d="M285.12 166.90L286.97 170.10H283.27Z"/>
<path d="M305.50 171.90L307.35 175.10H303.65Z"/>
<path d="M313.25 165.90L315.10 169.10H311.40Z"/>
<path d="M302.00 177.90L303.85 181.10H300.15Z"/>
<circle cx="282.25" cy="191.25" r="1.3"/>
<path d="M294.75 182.15L296.60 185.35H292.90Z"/>
<path d="M305.38 188.15L307.23 191.35H303.53Z"/>
<path d="M281.00 192.78L282.85 195.98H279.15Z"/>
<path d="M300.38 192.78L302.23 195.98H298.53Z"/>
<path d="M301.38 194.40L303.23 197.60H299.53Z"/>
<path d="M309.25 194.40L311.10 197.60H307.40Z"/>
<path d="M291.62 195.90L293.47 199.10H289.77Z"/>
<path d="M290.50 197.52L292.35 200.72H288.65Z"/>
<path d="M292.88 199.02L294.73 202.22H291.03Z"/>
<path d="M297.62 199.40L299.47 202.60H295.77Z"/>
<path d="M304.25 197.52L306.10 200.72H302.40Z"/>
<path d="M274.88 197.90L276.73 201.10H273.03Z"/>
</g>
<circle cx="216.12" cy="66.5" r="1.3" fill="#a80522"/>
<circle cx="226.12" cy="63.38" r="1.3" fill="#a80522"/>
<circle cx="221.5" cy="70.0" r="1.3" fill="#a80522"/>
<circle cx="222.75" cy="69.0" r="1.3" fill="#a80522"/>
<circle cx="216.75" cy="74.0" r="1.3" fill="#a80522"/>
<circle cx="216.25" cy="75.25" r="1.3" fill="#a80522"/>
<circle cx="217.5" cy="76.5" r="1.3" fill="#a80522"/>
<circle cx="218.75" cy="77.5" r="1.3" fill="#a80522"/>
<circle cx="221.12" cy="74.25" r="1.3" fill="#a80522"/>
<circle cx="223.12" cy="75.25" r="1.3" fill="#a80522"/>
<circle cx="227.5" cy="73.0" r="1.3" fill="#a80522"/>
<circle cx="230.5" cy="74.0" r="1.3" fill="#a80522"/>
<circle cx="247.38" cy="63.38" r="1.3" fill="#a80522"/>
<circle cx="249.0" cy="62.12" r="1.3" fill="#a80522"/>
<circle cx="251.12" cy="69.62" r="1.3" fill="#a80522"/>
<circle cx="253.12" cy="68.0" r="1.3" fill="#a80522"/>
<circle cx="254.62" cy="70.0" r="1.3" fill="#a80522"/>
<circle cx="265.88" cy="63.75" r="1.3" fill="#a80522"/>
<circle cx="270.88" cy="64.62" r="1.3" fill="#a80522"/>
<circle cx="242.75" cy="80.62" r="1.3" fill="#a80522"/>
<circle cx="250.0" cy="82.75" r="1.3" fill="#a80522"/>
<circle cx="231.5" cy="83.75" r="1.3" fill="#a80522"/>
<circle cx="217.12" cy="83.38" r="1.3" fill="#a80522"/>
<circle cx="215.25" cy="87.5" r="1.3" fill="#a80522"/>
<circle cx="265.62" cy="87.5" r="1.3" fill="#a80522"/>
<circle cx="215.0" cy="89.75" r="1.3" fill="#a80522"/>
<circle cx="220.5" cy="89.12" r="1.3" fill="#a80522"/>
<circle cx="229.62" cy="91.25" r="1.3" fill="#a80522"/>
<circle cx="231.12" cy="93.88" r="1.3" fill="#a80522"/>
<circle cx="216.75" cy="95.0" r="1.3" fill="#a80522"/>
<circle cx="223.75" cy="96.88" r="1.3" fill="#a80522"/>
<circle cx="215.5" cy="102.25" r="1.3" fill="#a80522"/>
<circle cx="216.25" cy="103.5" r="1.3" fill="#a80522"/>
<circle cx="220.0" cy="105.0" r="1.3" fill="#a80522"/>
<circle cx="220.0" cy="107.0" r="1.3" fill="#a80522"/>
<circle cx="235.25" cy="101.88" r="1.3" fill="#a80522"/>
<circle cx="219.0" cy="115.38" r="1.3" fill="#a80522"/>
<circle cx="269.88" cy="96.62" r="1.3" fill="#a80522"/>
<circle cx="226.25" cy="124.88" r="1.3" fill="#a80522"/>
<circle cx="229.62" cy="124.25" r="1.3" fill="#a80522"/>
<circle cx="220.25" cy="156.0" r="1.3" fill="#a80522"/>
<circle cx="216.5" cy="157.88" r="1.3" fill="#a80522"/>
<circle cx="252.5" cy="156.25" r="1.3" fill="#a80522"/>
<circle cx="254.88" cy="159.12" r="1.3" fill="#a80522"/>
<circle cx="235.0" cy="164.5" r="1.3" fill="#a80522"/>
<circle cx="221.75" cy="169.38" r="1.3" fill="#a80522"/>
<circle cx="240.25" cy="171.38" r="1.3" fill="#a80522"/>
<circle cx="230.88" cy="173.5" r="1.3" fill="#a80522"/>
<circle cx="223.75" cy="173.88" r="1.3" fill="#a80522"/>
<circle cx="222.5" cy="176.62" r="1.3" fill="#a80522"/>
<circle cx="216.5" cy="179.75" r="1.3" fill="#a80522"/>
<circle cx="217.75" cy="181.38" r="1.3" fill="#a80522"/>
<circle cx="217.12" cy="185.75" r="1.3" fill="#a80522"/>
<circle cx="217.5" cy="187.5" r="1.3" fill="#a80522"/>
<circle cx="217.12" cy="189.75" r="1.3" fill="#a80522"/>
<circle cx="216.75" cy="192.0" r="1.3" fill="#a80522"/>
<circle cx="277.0" cy="65.0" r="1.3" fill="#a80522"/>
<circle cx="278.25" cy="67.5" r="1.3" fill="#a80522"/>
<circle cx="280.5" cy="62.75" r="1.3" fill="#a80522"/>
<circle cx="288.62" cy="63.0" r="1.3" fill="#a80522"/>
<circle cx="286.62" cy="69.0" r="1.3" fill="#a80522"/>
<circle cx="297.25" cy="61.25" r="1.3" fill="#a80522"/>
<circle cx="297.62" cy="69.0" r="1.3" fill="#a80522"/>
<circle cx="312.38" cy="63.0" r="1.3" fill="#a80522"/>
<circle cx="309.25" cy="66.12" r="1.3" fill="#a80522"/>
<circle cx="312.0" cy="67.12" r="1.3" fill="#a80522"/>
<circle cx="311.38" cy="69.25" r="1.3" fill="#a80522"/>
<circle cx="311.62" cy="155.0" r="1.3" fill="#a80522"/>
<circle cx="303.5" cy="157.62" r="1.3" fill="#a80522"/>
<circle cx="282.25" cy="191.25" r="1.3" fill="#a80522"/>
<path d="M258.75 133.90L260.60 137.10H256.90Z" fill="#1d3878"/>
<path d="M235.50 142.90L237.35 146.10H233.65Z" fill="#1d3878"/>
<path d="M257.50 145.40L259.35 148.60H255.65Z" fill="#1d3878"/>
<path d="M247.75 150.15L249.60 153.35H245.90Z" fill="#1d3878"/>
<path d="M216.75 152.15L218.60 155.35H214.90Z" fill="#1d3878"/>
<path d="M273.38 157.15L275.23 160.35H271.53Z" fill="#1d3878"/>
<path d="M272.50 170.90L274.35 174.10H270.65Z" fill="#1d3878"/>
<path d="M235.25 173.78L237.10 176.98H233.40Z" fill="#1d3878"/>
<path d="M248.62 174.02L250.47 177.22H246.77Z" fill="#1d3878"/>
<path d="M241.75 177.52L243.60 180.72H239.90Z" fill="#1d3878"/>
<path d="M238.12 179.40L239.97 182.60H236.27Z" fill="#1d3878"/>
<path d="M222.50 182.15L224.35 185.35H220.65Z" fill="#1d3878"/>
<path d="M233.00 184.65L234.85 187.85H231.15Z" fill="#1d3878"/>
<path d="M238.38 186.28L240.23 189.48H236.53Z" fill="#1d3878"/>
<path d="M216.50 195.65L218.35 198.85H214.65Z" fill="#1d3878"/>
<path d="M220.50 194.15L222.35 197.35H218.65Z" fill="#1d3878"/>
<path d="M222.50 195.02L224.35 198.22H220.65Z" fill="#1d3878"/>
<path d="M224.62 195.02L226.47 198.22H222.77Z" fill="#1d3878"/>
<path d="M230.62 194.40L232.47 197.60H228.77Z" fill="#1d3878"/>
<path d="M234.00 199.78L235.85 202.98H232.15Z" fill="#1d3878"/>
<path d="M245.50 195.65L247.35 198.85H243.65Z" fill="#1d3878"/>
<path d="M246.12 197.15L247.97 200.35H244.27Z" fill="#1d3878"/>
<path d="M248.62 199.02L250.47 202.22H246.77Z" fill="#1d3878"/>
<path d="M256.50 197.52L258.35 200.72H254.65Z" fill="#1d3878"/>
<path d="M256.88 199.02L258.73 202.22H255.03Z" fill="#1d3878"/>
<path d="M263.00 199.78L264.85 202.98H261.15Z" fill="#1d3878"/>
<path d="M265.25 198.15L267.10 201.35H263.40Z" fill="#1d3878"/>
<path d="M266.75 199.15L268.60 202.35H264.90Z" fill="#1d3878"/>
<path d="M269.62 198.40L271.47 201.60H267.77Z" fill="#1d3878"/>
<path d="M273.75 198.78L275.60 201.98H271.90Z" fill="#1d3878"/>
<path d="M300.38 61.15L302.23 64.35H298.53Z" fill="#1d3878"/>
<path d="M313.50 63.40L315.35 66.60H311.65Z" fill="#1d3878"/>
<path d="M310.50 66.15L312.35 69.35H308.65Z" fill="#1d3878"/>
<path d="M313.88 67.65L315.73 70.85H312.03Z" fill="#1d3878"/>
<path d="M311.75 70.52L313.60 73.72H309.90Z" fill="#1d3878"/>
<path d="M311.12 76.78L312.97 79.98H309.27Z" fill="#1d3878"/>
<path d="M312.88 77.40L314.73 80.60H311.03Z" fill="#1d3878"/>
<path d="M311.62 81.78L313.47 84.98H309.77Z" fill="#1d3878"/>
<path d="M313.62 83.65L315.47 86.85H311.77Z" fill="#1d3878"/>
<path d="M294.25 79.52L296.10 82.72H292.40Z" fill="#1d3878"/>
<path d="M291.62 88.78L293.47 91.98H289.77Z" fill="#1d3878"/>
<path d="M294.25 90.02L296.10 93.22H292.40Z" fill="#1d3878"/>
<path d="M305.12 92.90L306.97 96.10H303.27Z" fill="#1d3878"/>
<path d="M312.88 95.40L314.73 98.60H311.03Z" fill="#1d3878"/>
<path d="M313.88 100.02L315.73 103.22H312.03Z" fill="#1d3878"/>
<path d="M313.88 101.28L315.73 104.48H312.03Z" fill="#1d3878"/>
<path d="M313.50 109.02L315.35 112.22H311.65Z" fill="#1d3878"/>
<path d="M310.75 121.78L312.60 124.98H308.90Z" fill="#1d3878"/>
<path d="M312.88 129.28L314.73 132.48H311.03Z" fill="#1d3878"/>
<path d="M277.25 139.28L279.10 142.48H275.40Z" fill="#1d3878"/>
<path d="M304.25 147.65L306.10 150.85H302.40Z" fill="#1d3878"/>
<path d="M302.88 150.90L304.73 154.10H301.03Z" fill="#1d3878"/>
<path d="M285.12 166.90L286.97 170.10H283.27Z" fill="#1d3878"/>
<path d="M305.50 171.90L307.35 175.10H303.65Z" fill="#1d3878"/>
<path d="M313.25 165.90L315.10 169.10H311.40Z" fill="#1d3878"/>
<path d="M302.00 177.90L303.85 181.10H300.15Z" fill="#1d3878"/>
<path d="M294.75 182.15L296.60 185.35H292.90Z" fill="#1d3878"/>
<path d="M305.38 188.15L307.23 191.35H303.53Z" fill="#1d3878"/>
<path d="M281.00 192.78L282.85 195.98H279.15Z" fill="#1d3878"/>
<path d="M300.38 192.78L302.23 195.98H298.53Z" fill="#1d3878"/>
<path d="M301.38 194.40L303.23 197.60H299.53Z" fill="#1d3878"/>
<path d="M309.25 194.40L311.10 197.60H307.40Z" fill="#1d3878"/>
<path d="M291.62 195.90L293.47 199.10H289.77Z" fill="#1d3878"/>
<path d="M290.50 197.52L292.35 200.72H288.65Z" fill="#1d3878"/>
<path d="M292.88 199.02L294.73 202.22H291.03Z" fill="#1d3878"/>
<path d="M297.62 199.40L299.47 202.60H295.77Z" fill="#1d3878"/>
<path d="M304.25 197.52L306.10 200.72H302.40Z" fill="#1d3878"/>
<path d="M274.88 197.90L276.73 201.10H273.03Z" fill="#1d3878"/>
<text transform="translate(264.40 250.60) rotate(0.03)" font-size="10.1" text-anchor="middle" textLength="121.3" lengthAdjust="spacingAndGlyphs">Validation set data using the</text>
<text transform="translate(262.90 262.60) rotate(0.03)" font-size="10.1" text-anchor="middle" textLength="54.3" lengthAdjust="spacingAndGlyphs">autoencoder</text>
<text transform="translate(342.50 17.80) rotate(0.03)" font-size="12.3" font-weight="bold" class="L">C</text>
<text transform="translate(410.00 24.90) rotate(0.03)" font-size="8.6" textLength="48" lengthAdjust="spacingAndGlyphs">Classification</text>
<circle cx="412.10" cy="34.5" r="1.4" fill="#a80522"/>
<text transform="translate(416.60 36.75) rotate(0.03)" font-size="8.4" textLength="17.9" lengthAdjust="spacingAndGlyphs">GCB</text>
<path d="M411.90 44.70L413.75 47.90H410.05Z" fill="#1d3878"/>
<text transform="translate(416.60 48.65) rotate(0.03)" font-size="8.4" textLength="17.0" lengthAdjust="spacingAndGlyphs">ABC</text>
<rect x="379.7" y="53.65" width="108.30" height="154.35" fill="#e6e6e6" stroke="#000" stroke-width="1.25"/>
<rect x="380.72" y="54.67" width="106.25" height="152.30" fill="none" stroke="#f3f3f3" stroke-width="0.8"/>
<path d="M383.00 208.0V211.50" stroke="#000" stroke-width="1.0" fill="none"/>
<text transform="translate(383.00 222.00) rotate(0.03)" font-size="8.45" text-anchor="middle">−1.0</text>
<path d="M379.7 203.70H376.30" stroke="#000" stroke-width="1.0" fill="none"/>
<text transform="translate(373.30 206.60) rotate(0.03)" font-size="8.45" text-anchor="end">−1.0</text>
<path d="M408.35 208.0V211.50" stroke="#000" stroke-width="1.0" fill="none"/>
<text transform="translate(408.35 222.00) rotate(0.03)" font-size="8.45" text-anchor="middle">−0.5</text>
<path d="M379.7 167.25H376.30" stroke="#000" stroke-width="1.0" fill="none"/>
<text transform="translate(373.30 170.15) rotate(0.03)" font-size="8.45" text-anchor="end">−0.5</text>
<path d="M433.70 208.0V211.50" stroke="#000" stroke-width="1.0" fill="none"/>
<text transform="translate(433.70 222.00) rotate(0.03)" font-size="8.45" text-anchor="middle">0.0</text>
<path d="M379.7 130.80H376.30" stroke="#000" stroke-width="1.0" fill="none"/>
<text transform="translate(373.30 133.70) rotate(0.03)" font-size="8.45" text-anchor="end">0.0</text>
<path d="M459.05 208.0V211.50" stroke="#000" stroke-width="1.0" fill="none"/>
<text transform="translate(459.05 222.00) rotate(0.03)" font-size="8.45" text-anchor="middle">0.5</text>
<path d="M379.7 94.35H376.30" stroke="#000" stroke-width="1.0" fill="none"/>
<text transform="translate(373.30 97.25) rotate(0.03)" font-size="8.45" text-anchor="end">0.5</text>
<path d="M484.40 208.0V211.50" stroke="#000" stroke-width="1.0" fill="none"/>
<text transform="translate(484.40 222.00) rotate(0.03)" font-size="8.45" text-anchor="middle">1.0</text>
<path d="M379.7 57.90H376.30" stroke="#000" stroke-width="1.0" fill="none"/>
<text transform="translate(373.30 60.80) rotate(0.03)" font-size="8.45" text-anchor="end">1.0</text>
<text transform="translate(433.25 236.00) rotate(0.03)" font-size="10.1" text-anchor="middle" textLength="48.9" lengthAdjust="spacingAndGlyphs" class="N">Latent feature 1</text>
<text transform="translate(350.20 130.75) rotate(-90.03)" font-size="10.1" text-anchor="middle" textLength="50.2" lengthAdjust="spacingAndGlyphs" class="N">Latent feature 2</text>
<g class="h">
<circle cx="389.68" cy="62.62" r="1.3"/>
<circle cx="403.48" cy="65.38" r="1.3"/>
<circle cx="417.29" cy="61.13" r="1.3"/>
<circle cx="416.22" cy="67.29" r="1.3"/>
<circle cx="408.79" cy="70.69" r="1.3"/>
<circle cx="390.74" cy="71.11" r="1.3"/>
<circle cx="384.8" cy="75.78" r="1.3"/>
<circle cx="424.29" cy="72.39" r="1.3"/>
<circle cx="438.1" cy="67.08" r="1.3"/>
<circle cx="442.56" cy="62.19" r="1.3"/>
<circle cx="450.84" cy="68.78" r="1.3"/>
<circle cx="462.73" cy="75.36" r="1.3"/>
<circle cx="470.16" cy="64.1" r="1.3"/>
<circle cx="480.78" cy="62.19" r="1.3"/>
<circle cx="482.05" cy="63.68" r="1.3"/>
<circle cx="481.84" cy="76.0" r="1.3"/>
<circle cx="439.58" cy="85.55" r="1.3"/>
<circle cx="417.29" cy="87.68" r="1.3"/>
<circle cx="405.61" cy="87.25" r="1.3"/>
<circle cx="400.08" cy="90.86" r="1.3"/>
<circle cx="385.22" cy="98.72" r="1.3"/>
<circle cx="387.56" cy="103.6" r="1.3"/>
<circle cx="416.22" cy="103.18" r="1.3"/>
<path d="M481.42 94.78L483.27 97.98H479.57Z"/>
<path d="M482.69 101.79L484.54 104.99H480.84Z"/>
<circle cx="386.07" cy="115.47" r="1.3"/>
<circle cx="392.86" cy="118.44" r="1.3"/>
<circle cx="389.25" cy="122.26" r="1.3"/>
<circle cx="416.22" cy="125.24" r="1.3"/>
<circle cx="384.37" cy="139.04" r="1.3"/>
<circle cx="404.33" cy="141.59" r="1.3"/>
<circle cx="410.49" cy="143.29" r="1.3"/>
<circle cx="413.89" cy="158.36" r="1.3"/>
<circle cx="473.98" cy="112.28" r="1.3"/>
<path d="M471.44 110.04L473.29 113.24H469.59Z"/>
<path d="M482.05 159.74L483.90 162.94H480.20Z"/>
<circle cx="386.07" cy="164.49" r="1.3"/>
<circle cx="385.22" cy="166.62" r="1.3"/>
<circle cx="416.44" cy="170.02" r="1.3"/>
<circle cx="425.14" cy="170.44" r="1.3"/>
<circle cx="387.56" cy="177.24" r="1.3"/>
<circle cx="387.77" cy="180.63" r="1.3"/>
<circle cx="395.2" cy="181.91" r="1.3"/>
<circle cx="399.24" cy="178.08" r="1.3"/>
<circle cx="398.6" cy="181.27" r="1.3"/>
<circle cx="480.78" cy="196.77" r="1.3"/>
<path d="M414.95 181.16L416.80 184.36H413.10Z"/>
<path d="M406.03 194.32L407.88 197.52H404.18Z"/>
<path d="M441.07 189.65L442.92 192.85H439.22Z"/>
<path d="M440.22 190.50L442.07 193.70H438.37Z"/>
<path d="M441.92 198.99L443.77 202.19H440.07Z"/>
<path d="M445.53 199.63L447.38 202.83H443.68Z"/>
<path d="M452.96 198.57L454.81 201.77H451.11Z"/>
<path d="M460.61 198.78L462.46 201.98H458.76Z"/>
<path d="M472.29 195.17L474.14 198.37H470.44Z"/>
<path d="M476.75 186.89L478.60 190.09H474.90Z"/>
<path d="M479.08 185.40L480.93 188.60H477.23Z"/>
<path d="M480.78 183.92L482.63 187.12H478.93Z"/>
<path d="M482.05 187.32L483.90 190.52H480.20Z"/>
</g>
<circle cx="389.68" cy="62.62" r="1.3" fill="#a80522"/>
<circle cx="403.48" cy="65.38" r="1.3" fill="#a80522"/>
<circle cx="417.29" cy="61.13" r="1.3" fill="#a80522"/>
<circle cx="416.22" cy="67.29" r="1.3" fill="#a80522"/>
<circle cx="408.79" cy="70.69" r="1.3" fill="#a80522"/>
<circle cx="390.74" cy="71.11" r="1.3" fill="#a80522"/>
<circle cx="384.8" cy="75.78" r="1.3" fill="#a80522"/>
<circle cx="424.29" cy="72.39" r="1.3" fill="#a80522"/>
<circle cx="438.1" cy="67.08" r="1.3" fill="#a80522"/>
<circle cx="442.56" cy="62.19" r="1.3" fill="#a80522"/>
<circle cx="450.84" cy="68.78" r="1.3" fill="#a80522"/>
<circle cx="462.73" cy="75.36" r="1.3" fill="#a80522"/>
<circle cx="470.16" cy="64.1" r="1.3" fill="#a80522"/>
<circle cx="480.78" cy="62.19" r="1.3" fill="#a80522"/>
<circle cx="482.05" cy="63.68" r="1.3" fill="#a80522"/>
<circle cx="481.84" cy="76.0" r="1.3" fill="#a80522"/>
<circle cx="439.58" cy="85.55" r="1.3" fill="#a80522"/>
<circle cx="417.29" cy="87.68" r="1.3" fill="#a80522"/>
<circle cx="405.61" cy="87.25" r="1.3" fill="#a80522"/>
<circle cx="400.08" cy="90.86" r="1.3" fill="#a80522"/>
<circle cx="385.22" cy="98.72" r="1.3" fill="#a80522"/>
<circle cx="387.56" cy="103.6" r="1.3" fill="#a80522"/>
<circle cx="416.22" cy="103.18" r="1.3" fill="#a80522"/>
<circle cx="386.07" cy="115.47" r="1.3" fill="#a80522"/>
<circle cx="392.86" cy="118.44" r="1.3" fill="#a80522"/>
<circle cx="389.25" cy="122.26" r="1.3" fill="#a80522"/>
<circle cx="416.22" cy="125.24" r="1.3" fill="#a80522"/>
<circle cx="384.37" cy="139.04" r="1.3" fill="#a80522"/>
<circle cx="404.33" cy="141.59" r="1.3" fill="#a80522"/>
<circle cx="410.49" cy="143.29" r="1.3" fill="#a80522"/>
<circle cx="413.89" cy="158.36" r="1.3" fill="#a80522"/>
<circle cx="473.98" cy="112.28" r="1.3" fill="#a80522"/>
<circle cx="386.07" cy="164.49" r="1.3" fill="#a80522"/>
<circle cx="385.22" cy="166.62" r="1.3" fill="#a80522"/>
<circle cx="416.44" cy="170.02" r="1.3" fill="#a80522"/>
<circle cx="425.14" cy="170.44" r="1.3" fill="#a80522"/>
<circle cx="387.56" cy="177.24" r="1.3" fill="#a80522"/>
<circle cx="387.77" cy="180.63" r="1.3" fill="#a80522"/>
<circle cx="395.2" cy="181.91" r="1.3" fill="#a80522"/>
<circle cx="399.24" cy="178.08" r="1.3" fill="#a80522"/>
<circle cx="398.6" cy="181.27" r="1.3" fill="#a80522"/>
<circle cx="480.78" cy="196.77" r="1.3" fill="#a80522"/>
<path d="M481.42 94.78L483.27 97.98H479.57Z" fill="#1d3878"/>
<path d="M482.69 101.79L484.54 104.99H480.84Z" fill="#1d3878"/>
<path d="M471.44 110.04L473.29 113.24H469.59Z" fill="#1d3878"/>
<path d="M482.05 159.74L483.90 162.94H480.20Z" fill="#1d3878"/>
<path d="M414.95 181.16L416.80 184.36H413.10Z" fill="#1d3878"/>
<path d="M406.03 194.32L407.88 197.52H404.18Z" fill="#1d3878"/>
<path d="M441.07 189.65L442.92 192.85H439.22Z" fill="#1d3878"/>
<path d="M440.22 190.50L442.07 193.70H438.37Z" fill="#1d3878"/>
<path d="M441.92 198.99L443.77 202.19H440.07Z" fill="#1d3878"/>
<path d="M445.53 199.63L447.38 202.83H443.68Z" fill="#1d3878"/>
<path d="M452.96 198.57L454.81 201.77H451.11Z" fill="#1d3878"/>
<path d="M460.61 198.78L462.46 201.98H458.76Z" fill="#1d3878"/>
<path d="M472.29 195.17L474.14 198.37H470.44Z" fill="#1d3878"/>
<path d="M476.75 186.89L478.60 190.09H474.90Z" fill="#1d3878"/>
<path d="M479.08 185.40L480.93 188.60H477.23Z" fill="#1d3878"/>
<path d="M480.78 183.92L482.63 187.12H478.93Z" fill="#1d3878"/>
<path d="M482.05 187.32L483.90 190.52H480.20Z" fill="#1d3878"/>
<text transform="translate(434.00 250.60) rotate(0.03)" font-size="10.1" text-anchor="middle" textLength="157.0" lengthAdjust="spacingAndGlyphs">NanoString validation data using the</text>
<text transform="translate(433.50 262.60) rotate(0.03)" font-size="10.1" text-anchor="middle" textLength="54.3" lengthAdjust="spacingAndGlyphs">autoencoder</text>
</svg>
</body></html>
